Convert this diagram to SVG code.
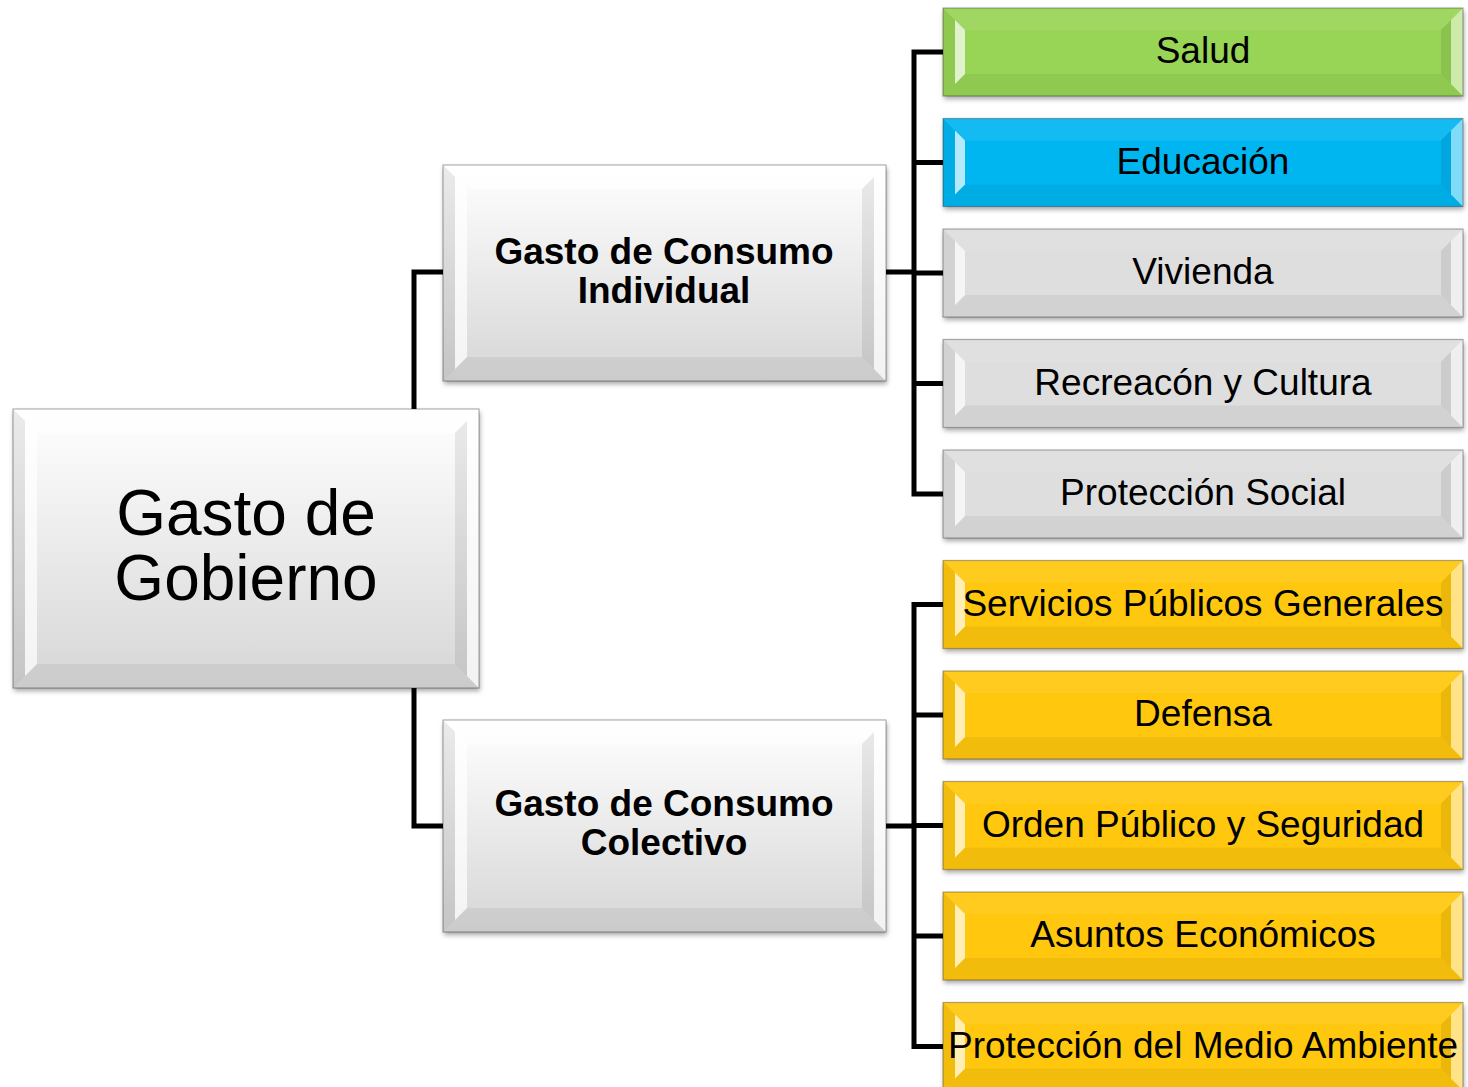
<svg xmlns="http://www.w3.org/2000/svg" width="1468" height="1087" viewBox="0 0 1468 1087">
<defs>
<style>
.ln{stroke:#000;stroke-width:5;fill:none;stroke-linejoin:miter}
.t{font-family:"Liberation Sans",Arial,sans-serif;fill:#000;text-anchor:middle}
.leaf{font-size:37px}
.mid{font-size:37px;font-weight:bold}
.big{font-size:64px}
.hl{fill:#fff;opacity:.7}
.hl2{fill:#fff;opacity:.5}
.tp{fill:#fff;opacity:.08}
.sh{fill:#000;opacity:.05}
.sh2{fill:#000;opacity:.08}
.bd{fill:none;stroke:#000;stroke-opacity:.3;stroke-width:1.2}
</style>
<linearGradient id="gface" x1="0" y1="0" x2="0" y2="1">
<stop offset="0" stop-color="#ffffff"/>
<stop offset="1" stop-color="#d6d6d6"/>
</linearGradient>
<filter id="ds" x="-5%" y="-10%" width="110%" height="125%">
<feDropShadow dx="1" dy="3" stdDeviation="2.5" flood-color="#000" flood-opacity=".35"/>
</filter>
<g id="lb">
<polygon class="tp" points="0,0 520,0 498,22 22,22"/>
<polygon class="sh" points="0,88 520,88 498,66 22,66"/>
<polygon class="sh" points="0,0 12,12 12,76 0,88"/>
<polygon class="hl" points="12,12 22,22 22,66 12,76"/>
<polygon class="sh2" points="498,22 508,12 508,76 498,66"/>
<polygon class="hl2" points="508,12 520,0 520,88 508,76"/>
<rect class="bd" x="0" y="0" width="520" height="88"/>
</g>
</defs>

<g id="connectors">
<polyline class="ln" points="443,272 414,272 414,409"/>
<polyline class="ln" points="443,826 414,826 414,688"/>
<line class="ln" x1="886" y1="272" x2="914" y2="272"/>
<line class="ln" x1="886" y1="826" x2="914" y2="826"/>
<polyline class="ln" points="943,52 914,52 914,494 943,494"/>
<line class="ln" x1="914" y1="162.5" x2="943" y2="162.5"/>
<line class="ln" x1="914" y1="273" x2="943" y2="273"/>
<line class="ln" x1="914" y1="383.5" x2="943" y2="383.5"/>
<polyline class="ln" points="943,604.5 914,604.5 914,1046.5 943,1046.5"/>
<line class="ln" x1="914" y1="715" x2="943" y2="715"/>
<line class="ln" x1="914" y1="825.5" x2="943" y2="825.5"/>
<line class="ln" x1="914" y1="936" x2="943" y2="936"/>
</g>

<g id="root" transform="translate(13,409)">
<rect width="466" height="279" fill="url(#gface)" filter="url(#ds)"/>
<polygon fill="#fff" opacity=".5" points="0,0 466,0 442,24 24,24"/>
<polygon class="sh" points="0,279 466,279 442,255 24,255"/>
<polygon class="sh2" points="0,0 12,12 12,267 0,279"/>
<polygon class="hl" points="12,12 24,24 24,255 12,267"/>
<polygon class="sh2" points="442,24 454,12 454,267 442,255"/>
<polygon class="hl" points="454,12 466,0 466,279 454,267"/>
<rect class="bd" width="466" height="279"/>
<text class="t big" x="233" y="126">Gasto de</text>
<text class="t big" x="233" y="191">Gobierno</text>
</g>

<g id="individual" transform="translate(443,165)">
<rect width="443" height="216" fill="url(#gface)" filter="url(#ds)"/>
<polygon fill="#fff" opacity=".5" points="0,0 443,0 419,24 24,24"/>
<polygon class="sh" points="0,216 443,216 419,192 24,192"/>
<polygon class="sh2" points="0,0 12,12 12,204 0,216"/>
<polygon class="hl" points="12,12 24,24 24,192 12,204"/>
<polygon class="sh2" points="419,24 431,12 431,204 419,192"/>
<polygon class="hl" points="431,12 443,0 443,216 431,204"/>
<rect class="bd" width="443" height="216"/>
<text class="t mid" x="221" y="99">Gasto de Consumo</text>
<text class="t mid" x="221" y="138">Individual</text>
</g>

<g id="colectivo" transform="translate(443,720)">
<rect width="443" height="212" fill="url(#gface)" filter="url(#ds)"/>
<polygon fill="#fff" opacity=".5" points="0,0 443,0 419,24 24,24"/>
<polygon class="sh" points="0,212 443,212 419,188 24,188"/>
<polygon class="sh2" points="0,0 12,12 12,200 0,212"/>
<polygon class="hl" points="12,12 24,24 24,188 12,200"/>
<polygon class="sh2" points="419,24 431,12 431,200 419,188"/>
<polygon class="hl" points="431,12 443,0 443,212 431,200"/>
<rect class="bd" width="443" height="212"/>
<text class="t mid" x="221" y="96">Gasto de Consumo</text>
<text class="t mid" x="221" y="135">Colectivo</text>
</g>

<g id="salud" transform="translate(943,8)">
<rect width="520" height="88" fill="#98d455" filter="url(#ds)"/>
<use href="#lb"/>
<text class="t leaf" x="260" y="55">Salud</text>
</g>
<g id="educacion" transform="translate(943,118.5)">
<rect width="520" height="88" fill="#02b6f1" filter="url(#ds)"/>
<use href="#lb"/>
<text class="t leaf" x="260" y="55">Educación</text>
</g>
<g id="vivienda" transform="translate(943,229)">
<rect width="520" height="88" fill="#dedede" filter="url(#ds)"/>
<use href="#lb"/>
<text class="t leaf" x="260" y="55">Vivienda</text>
</g>
<g id="recreacion" transform="translate(943,339.5)">
<rect width="520" height="88" fill="#dedede" filter="url(#ds)"/>
<use href="#lb"/>
<text class="t leaf" x="260" y="55">Recreacón y Cultura</text>
</g>
<g id="proteccion-social" transform="translate(943,450)">
<rect width="520" height="88" fill="#dedede" filter="url(#ds)"/>
<use href="#lb"/>
<text class="t leaf" x="260" y="55">Protección Social</text>
</g>
<g id="servicios" transform="translate(943,560.5)">
<rect width="520" height="88" fill="#ffc710" filter="url(#ds)"/>
<use href="#lb"/>
<text class="t leaf" x="260" y="55">Servicios Públicos Generales</text>
</g>
<g id="defensa" transform="translate(943,671)">
<rect width="520" height="88" fill="#ffc710" filter="url(#ds)"/>
<use href="#lb"/>
<text class="t leaf" x="260" y="55">Defensa</text>
</g>
<g id="orden" transform="translate(943,781.5)">
<rect width="520" height="88" fill="#ffc710" filter="url(#ds)"/>
<use href="#lb"/>
<text class="t leaf" x="260" y="55">Orden Público y Seguridad</text>
</g>
<g id="asuntos" transform="translate(943,892)">
<rect width="520" height="88" fill="#ffc710" filter="url(#ds)"/>
<use href="#lb"/>
<text class="t leaf" x="260" y="55">Asuntos Económicos</text>
</g>
<g id="medio-ambiente" transform="translate(943,1002.5)">
<rect width="520" height="88" fill="#ffc710" filter="url(#ds)"/>
<use href="#lb"/>
<text class="t leaf" x="260" y="55">Protección del Medio Ambiente</text>
</g>
</svg>
